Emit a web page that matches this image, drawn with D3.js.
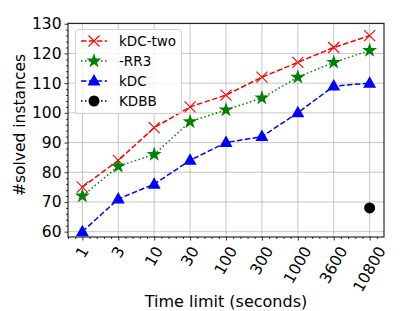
<!DOCTYPE html>
<html>
<head>
<meta charset="utf-8">
<script src="https://cdn.jsdelivr.net/npm/d3@7"></script>
<style>
  body { margin: 0; background: white; }
  text { font-family: "DejaVu Sans", sans-serif; }
</style>
</head>
<body>
<svg id="chart" width="415" height="311"></svg>
<script>
// data
var timeLabels = ['1', '3', '10', '30', '100', '300', '1000', '3600', '10800'];
var kdcTwo = [75, 84, 95, 102, 106, 112, 117, 122, 126];
var rr3 = [72, 82, 86, 97, 101, 105, 112, 117, 121];
var kdc = [60, 71, 76, 84, 90, 92, 100, 109, 110];
var kdbb = [null, null, null, null, null, null, null, null, 68];
var yTicks = [60, 70, 80, 90, 100, 110, 120, 130];

var series = [
  {name: 'kDC-two', values: kdcTwo, color: 'red', dash: '5.5,2.4', marker: 'x'},
  {name: '-RR3', values: rr3, color: 'green', dash: '1.5,2.5', marker: 'star'},
  {name: 'kDC', values: kdc, color: 'blue', dash: '5.5,2.4', marker: 'tri'},
  {name: 'KDBB', values: kdbb, color: 'black', dash: '1.5,2.5', marker: 'circle'}
];

var axLeft = 68, axRight = 384, axTop = 23.3, axBottom = 237;
var svg = d3.select('#chart');

var x = d3.scaleLinear().domain([-0.4, 8.4]).range([axLeft, axRight]);
var y = d3.scaleLinear().domain([58.2, 130.15]).range([axBottom, axTop]);

// grid
var grid = svg.append('g').attr('class', 'grid');
grid.selectAll('.gx').data(timeLabels).enter().append('line')
  .attr('x1', function(d, i){ return x(i); }).attr('x2', function(d, i){ return x(i); })
  .attr('y1', axTop).attr('y2', axBottom)
  .attr('stroke', '#b0b0b0').attr('stroke-width', 1).attr('opacity', 0.7);
grid.selectAll('.gy').data(yTicks).enter().append('line')
  .attr('x1', axLeft).attr('x2', axRight)
  .attr('y1', function(d){ return y(d); }).attr('y2', function(d){ return y(d); })
  .attr('stroke', '#b0b0b0').attr('stroke-width', 1).attr('opacity', 0.7);

// axes
var xAxis = d3.axisBottom(x)
  .tickValues(d3.range(timeLabels.length))
  .tickFormat(function(d){ return timeLabels[d]; })
  .tickSizeInner(3.5).tickSizeOuter(0);
var xMinor = d3.axisBottom(x)
  .tickValues(d3.range(-2, 42).map(function(v){ return v * 0.2; }).filter(function(v){ return Math.abs(v - Math.round(v)) > 0.01; }))
  .tickFormat('').tickSizeInner(2).tickSizeOuter(0);
var yAxis = d3.axisLeft(y).tickValues(yTicks).tickSizeInner(3.5).tickSizeOuter(0);
var yMinor = d3.axisLeft(y)
  .tickValues(d3.range(59, 131, 1).filter(function(v){ return v % 2 == 0 && v % 10 != 0; }))
  .tickFormat('').tickSizeInner(2).tickSizeOuter(0);

svg.append('g').attr('transform', 'translate(0,' + axBottom + ')').call(xMinor)
  .call(function(g){ g.select('.domain').remove(); });
svg.append('g').attr('transform', 'translate(' + axLeft + ',0)').call(yMinor)
  .call(function(g){ g.select('.domain').remove(); });

var gx = svg.append('g').attr('transform', 'translate(0,' + axBottom + ')').call(xAxis);
gx.select('.domain').remove();
gx.selectAll('text').remove();
var gy = svg.append('g').attr('transform', 'translate(' + axLeft + ',0)').call(yAxis);
gy.select('.domain').remove();
gy.selectAll('text').attr('font-size', '15.5px').attr('fill', 'black')
  .attr('font-family', 'DejaVu Sans').attr('x', -6.5);
svg.selectAll('.tick line').attr('stroke', 'black').attr('stroke-width', 0.8);

// rotated x tick labels, centered below the tick like matplotlib
timeLabels.forEach(function(lab, i) {
  var t = svg.append('text').text(lab)
    .attr('font-size', '15.5px').attr('text-anchor', 'middle')
    .attr('dominant-baseline', 'central');
  var w = t.node().getComputedTextLength(), h = 15.5 * 0.9;
  var hh = w * Math.sin(Math.PI / 3) + h * Math.cos(Math.PI / 3);
  var cy = axBottom + 7.5 + hh / 2;
  t.attr('transform', 'translate(' + x(i) + ',' + cy + ') rotate(-60)');
});

// spines
svg.append('rect').attr('x', axLeft).attr('y', axTop)
  .attr('width', axRight - axLeft).attr('height', axBottom - axTop)
  .attr('fill', 'none').attr('stroke', 'black').attr('stroke-width', 1);

// lines
var line = d3.line()
  .defined(function(d){ return d != null; })
  .x(function(d, i){ return x(i); })
  .y(function(d){ return y(d); });

function drawMarker(g, type, color, cx, cy) {
  if (type == 'x') {
    g.append('path').attr('d', 'M' + (cx - 5.5) + ',' + (cy - 5.5) + 'L' + (cx + 5.5) + ',' + (cy + 5.5) +
      'M' + (cx - 5.5) + ',' + (cy + 5.5) + 'L' + (cx + 5.5) + ',' + (cy - 5.5))
      .attr('stroke', color).attr('stroke-width', 1.1).attr('fill', 'none');
  } else if (type == 'star') {
    g.append('path').attr('d', d3.symbol().type(d3.symbolStar).size(70)())
      .attr('transform', 'translate(' + cx + ',' + cy + ')').attr('fill', color);
  } else if (type == 'tri') {
    g.append('path').attr('d', 'M' + cx + ',' + (cy - 7) + 'L' + (cx + 6.5) + ',' + (cy + 4.5) + 'L' + (cx - 6.5) + ',' + (cy + 4.5) + 'Z')
      .attr('fill', color);
  } else {
    g.append('circle').attr('cx', cx).attr('cy', cy).attr('r', 5.5).attr('fill', color);
  }
}

var plot = svg.append('g');
series.forEach(function(s) {
  plot.append('path').datum(s.values).attr('d', line)
    .attr('fill', 'none').attr('stroke', s.color).attr('stroke-width', 1.5)
    .attr('stroke-dasharray', s.dash);
  s.values.forEach(function(v, i) {
    if (v != null) drawMarker(plot, s.marker, s.color, x(i), y(v));
  });
});

// legend
var lg = svg.append('g');
lg.append('rect').attr('x', 75.5).attr('y', 29.5).attr('width', 106).attr('height', 84)
  .attr('rx', 3).attr('fill', 'white').attr('fill-opacity', 0.8)
  .attr('stroke', '#d0d0d0').attr('stroke-width', 1);
series.forEach(function(s, i) {
  var ly = 41 + i * 20;
  lg.append('line').attr('x1', 81).attr('x2', 107).attr('y1', ly).attr('y2', ly)
    .attr('stroke', s.color).attr('stroke-width', 1.5).attr('stroke-dasharray', s.dash);
  drawMarker(lg, s.marker, s.color, 94, ly);
  lg.append('text').text(s.name).attr('x', 119).attr('y', ly)
    .attr('dominant-baseline', 'central').attr('font-size', '13.5px');
});

// axis titles
svg.append('text').text('Time limit (seconds)')
  .attr('x', (axLeft + axRight) / 2).attr('y', 306.5)
  .attr('text-anchor', 'middle').attr('font-size', '16px');
svg.append('text').text('#solved instances')
  .attr('transform', 'translate(25,' + 125 + ') rotate(-90)')
  .attr('text-anchor', 'middle').attr('font-size', '15.5px');
</script>
</body>
</html>
